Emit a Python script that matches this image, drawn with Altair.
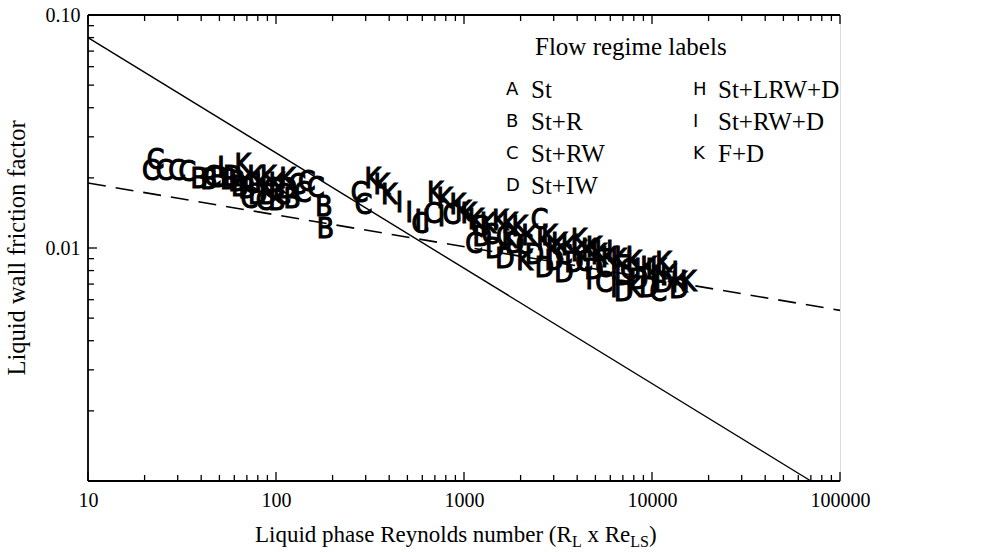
import altair as alt
import pandas as pd

# ---------------- data ----------------
pt_re = [21.6, 25.5, 29.8, 33.7, 22.9, 39.0, 44.0, 49.6, 56.0, 50.9,
         58.9, 66.5, 77.7, 70.0, 74.3, 84.8, 90.0, 95.7, 101, 108,
         115, 122, 130, 115, 139, 87, 101, 80, 146, 163,
         180, 183, 72, 64, 91, 62, 46,
         278, 327, 365, 292, 400, 454, 512, 570, 630, 680,
         703, 790, 855, 925, 990, 760, 585,
         1060, 1160, 1250, 1214, 1340, 1458, 1560, 1650, 1750, 1860,
         1980, 2100, 2230, 2370, 2520, 2680, 2850, 3020, 3210, 3400,
         3620, 3850, 4090, 4350, 4630, 4910, 5220, 5560, 5900, 6270,
         6660, 7080, 7520, 7990, 8490, 9020, 9590, 10200, 10800, 11500,
         12200, 13300, 15600, 9590, 5560, 3400, 2100, 1650, 1130, 2850,
         4090, 4910, 7080, 11500, 13900, 4630, 7080, 7990, 10800, 13900,
         6270, 2680, 1750, 1380, 3020, 5560]
pt_f = [0.0211, 0.0211, 0.0211, 0.0209, 0.0236, 0.0195, 0.0193, 0.0197, 0.0193, 0.0219,
        0.0199, 0.0224, 0.0199, 0.0177, 0.0186, 0.0188, 0.0167, 0.0177, 0.0186, 0.0167,
        0.0177, 0.0160, 0.0184, 0.0195, 0.0170, 0.0158, 0.0158, 0.0168, 0.0190, 0.0179,
        0.0149, 0.0119, 0.0160, 0.0181, 0.0199, 0.0191, 0.0199,
        0.0171, 0.0195, 0.0184, 0.0152, 0.0168, 0.0155, 0.0140, 0.0129, 0.0129, 0.0139,
        0.0170, 0.0160, 0.0137, 0.0152, 0.0141, 0.0134, 0.0126,
        0.0138, 0.0131, 0.0110, 0.0122, 0.0125, 0.00976, 0.0129, 0.0110, 0.0125, 0.0103,
        0.0122, 0.0102, 0.0112, 0.0092, 0.0131, 0.0106, 0.0097, 0.0087, 0.0103, 0.0092,
        0.0101, 0.0085, 0.0095, 0.0086, 0.0097, 0.0080, 0.0092, 0.0081, 0.0090, 0.0080,
        0.0088, 0.0075, 0.0080, 0.0086, 0.0072, 0.0080, 0.0081, 0.0074, 0.0080, 0.0070,
        0.0075, 0.0077, 0.0071, 0.0067, 0.0070, 0.0077, 0.0087, 0.00884, 0.0103, 0.0112,
        0.0107, 0.0099, 0.0090, 0.0085, 0.0066, 0.0072, 0.0064, 0.0067, 0.0064, 0.0070,
        0.0067, 0.0081, 0.0108, 0.0113, 0.0097, 0.0095]
pt_lab = ["C", "C", "C", "C", "C", "B", "B", "B", "B", "I",
          "D", "K", "K", "B", "C", "K", "B", "C", "K", "C",
          "D", "B", "C", "K", "C", "C", "B", "D", "C", "C",
          "B", "B", "C", "B", "K", "B", "C",
          "C", "K", "K", "C", "K", "I", "I", "I", "I", "C",
          "K", "K", "C", "K", "K", "I", "C",
          "K", "K", "D", "C", "K", "D", "K", "C", "K", "D",
          "K", "C", "K", "D", "C", "K", "I", "D", "K", "C",
          "K", "D", "K", "C", "K", "D", "K", "C", "K", "I",
          "K", "D", "C", "K", "D", "H", "K", "I", "K", "D",
          "K", "I", "K", "D", "C", "D", "K", "D", "C", "K",
          "K", "K", "H", "K", "D", "I", "D", "K", "C", "K",
          "I", "D", "K", "C", "K", "H"]

solid_re = [10, 70000]
solid_f = [0.08, 0.001]
dash_re = [10, 100000]
dash_f = [0.019, 0.0054]

x_major = [10, 100, 1000, 10000, 100000]
x_minor = [20, 30, 40, 50, 60, 70, 80, 90,
           200, 300, 400, 500, 600, 700, 800, 900,
           2000, 3000, 4000, 5000, 6000, 7000, 8000, 9000,
           20000, 30000, 40000, 50000, 60000, 70000, 80000, 90000]
y_major = [0.001, 0.01, 0.1]
y_minor = [0.002, 0.003, 0.004, 0.005, 0.006, 0.007, 0.008, 0.009,
           0.02, 0.03, 0.04, 0.05, 0.06, 0.07, 0.08, 0.09]
y_labeled = [0.1, 0.01]

legend_codes = ["A", "B", "C", "D", "H", "I", "K"]
legend_names = ["St", "St+R", "St+RW", "St+IW", "St+LRW+D", "St+RW+D", "F+D"]

# ---------------- layout ----------------
W, H = 752, 466
SERIF = "Liberation Serif"
SANS = "DejaVu Sans"
MARK_FONT = "DejaVu Sans Condensed"

xs = alt.Scale(type="log", domain=[10, 100000])
ys = alt.Scale(type="log", domain=[0.001, 0.1])
x_axis = alt.Axis(values=x_major, labelExpr="format(datum.value, 'd')", ticks=False,
                  domain=False, grid=False, title=None, labelFont=SERIF, labelFontSize=20,
                  labelColor="black", labelPadding=9, labelFlush=False)
y_axis = alt.Axis(values=y_labeled, labelExpr="datum.value > 0.05 ? '0.10' : '0.01'",
                  ticks=False, domain=False, grid=False, title=None, labelFont=SERIF,
                  labelFontSize=20, labelColor="black", labelPadding=8)

pts = pd.DataFrame({"re": pt_re, "f": pt_f, "lab": pt_lab})
points = alt.Chart(pts).mark_text(font=MARK_FONT, fontSize=28, color="black", stroke="black",
                                  strokeWidth=1.1, align="center", baseline="middle").encode(
    x=alt.X("re:Q", scale=xs, axis=x_axis),
    y=alt.Y("f:Q", scale=ys, axis=y_axis),
    text="lab:N",
)

solid = alt.Chart(pd.DataFrame({"re": solid_re, "f": solid_f})).mark_line(
    color="black", strokeWidth=1.4).encode(
    x=alt.X("re:Q", scale=xs, axis=x_axis), y=alt.Y("f:Q", scale=ys, axis=y_axis))
dashed = alt.Chart(pd.DataFrame({"re": dash_re, "f": dash_f})).mark_line(
    color="black", strokeWidth=1.6, strokeDash=[18, 10]).encode(
    x=alt.X("re:Q", scale=xs, axis=x_axis), y=alt.Y("f:Q", scale=ys, axis=y_axis))

one = pd.DataFrame({"a": [0]})

# frame: left, top, bottom (no right edge)
frame_layers = [
    alt.Chart(one).mark_rule(color="black", strokeWidth=1.8).encode(
        x=alt.value(0), y=alt.value(0), y2=alt.value(H)),
    alt.Chart(one).mark_rule(color="black", strokeWidth=1.8).encode(
        x=alt.value(0), x2=alt.value(W), y=alt.value(0)),
    alt.Chart(one).mark_rule(color="black", strokeWidth=1.8).encode(
        x=alt.value(0), x2=alt.value(W), y=alt.value(H)),
]

# inward ticks
def xticks(vals, length):
    df = pd.DataFrame({"v": vals})
    base = alt.Chart(df).mark_rule(color="black", strokeWidth=1.3)
    b = base.encode(x=alt.X("v:Q", scale=xs, axis=x_axis), y=alt.value(H), y2=alt.value(H - length))
    t = base.encode(x=alt.X("v:Q", scale=xs, axis=x_axis), y=alt.value(0), y2=alt.value(length))
    return [b, t]

def yticks(vals, length):
    df = pd.DataFrame({"v": vals})
    base = alt.Chart(df).mark_rule(color="black", strokeWidth=1.3)
    l = base.encode(y=alt.Y("v:Q", scale=ys, axis=y_axis), x=alt.value(0), x2=alt.value(length))
    return [l]

tick_layers = xticks(x_major, 9) + xticks(x_minor, 6) + yticks(y_major, 9) + yticks(y_minor, 6)

def txt(s, x, y, font=SERIF, size=24, align="left", baseline="middle", angle=0):
    kw = dict(text=s, font=font, fontSize=size, color="black", align=align, baseline=baseline)
    if angle:
        kw["angle"] = angle
    return alt.Chart(one).mark_text(**kw).encode(x=alt.value(x), y=alt.value(y))

# legend (text)
legend_layers = [txt("Flow regime labels", 447, 32, size=25)]
for i, (c, n) in enumerate(zip(legend_codes, legend_names)):
    col = 0 if i < 4 else 1
    row = i if i < 4 else i - 4
    lx = 418 if col == 0 else 605
    ly = 75 + row * 32
    legend_layers.append(txt(c, lx, ly, font=SANS, size=18))
    legend_layers.append(txt(n, lx + 25, ly, size=25))

# axis titles
tx0, tyb = 167, 527
title_layers = [
    txt("Liquid phase Reynolds number (R", tx0, tyb, size=23, baseline="alphabetic"),
    txt("L", tx0 + 316.9, tyb + 5, size=16, baseline="alphabetic"),
    txt("x Re", tx0 + 332.5, tyb, size=23, baseline="alphabetic"),
    txt("LS", tx0 + 375.3, tyb + 5, size=16, baseline="alphabetic"),
    txt(")", tx0 + 394.0, tyb, size=23, baseline="alphabetic"),
    txt("Liquid wall friction factor", -70, 233, size=24.5, align="center", angle=270),
]

chart = alt.layer(*frame_layers, *tick_layers, solid, dashed, points, *legend_layers,
                  *title_layers).properties(
    width=W, height=H,
    autosize=alt.AutoSizeParams(type="none"),
    padding={"left": 88, "top": 15, "right": 155, "bottom": 71},
).configure_view(strokeWidth=0).configure(background="white")

chart.save("out.html", embed_options={"renderer": "svg", "actions": False})
